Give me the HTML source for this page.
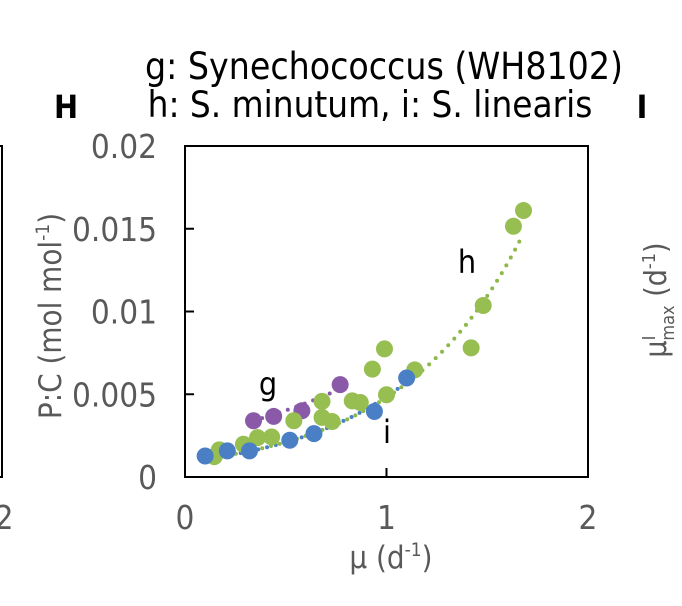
<!DOCTYPE html>
<html><head><meta charset="utf-8">
<style>
html,body{margin:0;padding:0;background:#fff;}
svg{display:block;font-family:"DejaVu Sans Condensed","DejaVu Sans","Liberation Sans",sans-serif;}
</style></head>
<body>
<svg id="chart" width="682" height="606" viewBox="0 0 682 606">
  <rect x="-2" y="146" width="4" height="331" fill="none" stroke="#000" stroke-width="2"/>
  <text x="4" y="529" font-size="33" fill="#595959" text-anchor="middle">2</text>
  <text x="384" y="79" font-size="37" fill="#000" text-anchor="middle">g: Synechococcus (WH8102)</text>
  <text x="370" y="117" font-size="36.5" fill="#000" text-anchor="middle">h: S. minutum, i: S. linearis</text>
  <text x="66" y="118" font-size="32" font-weight="bold" fill="#000" text-anchor="middle">H</text>
  <text x="642" y="118" font-size="32" font-weight="bold" fill="#000" text-anchor="middle">I</text>
  <text transform="translate(666,300) rotate(-90)" font-size="30" fill="#595959" text-anchor="middle">μ<tspan font-size="18" dy="-11">I</tspan><tspan font-size="18" dy="19" dx="-5">max</tspan><tspan dy="-8"> (d</tspan><tspan font-size="18" dy="-11">-1</tspan><tspan dy="11">)</tspan></text>
  <text transform="translate(61,316) rotate(-90)" font-size="31" fill="#595959" text-anchor="middle">P:C (mol mol<tspan font-size="19" dy="-12">-1</tspan><tspan dy="12">)</tspan></text>
  <text x="391" y="568" font-size="31" fill="#595959" text-anchor="middle">μ (d<tspan font-size="19" dy="-12">-1</tspan><tspan dy="12">)</tspan></text>
  <g id="ticks"></g>
  <g id="fits"></g>
  <g id="points"></g>
  <rect x="185" y="146" width="403" height="331" fill="none" stroke="#000" stroke-width="2"/>
  <text x="268" y="395" font-size="32" fill="#000" text-anchor="middle">g</text>
  <text x="467" y="273" font-size="32" fill="#000" text-anchor="middle">h</text>
  <text x="387" y="443" font-size="32" fill="#000" text-anchor="middle">i</text>
</svg>
<script>
const xTicks = [0, 1, 2];
const yTicks = [0, 0.005, 0.01, 0.015, 0.02];
const yTickLabels = ["0", "0.005", "0.01", "0.015", "0.02"];
const blueX = [0.10, 0.21, 0.32, 0.52, 0.64, 0.94, 1.10];
const blueY = [0.00127, 0.00158, 0.00158, 0.00222, 0.00262, 0.00396, 0.00598];
const purpleX = [0.34, 0.44, 0.58, 0.77];
const purpleY = [0.0034, 0.00366, 0.0040, 0.00558];
const greenX = [0.145, 0.17, 0.29, 0.36, 0.43, 0.54, 0.68, 0.68, 0.73, 0.83, 0.87, 0.93, 0.99, 1.00, 1.14, 1.42, 1.48, 1.63, 1.68];
const greenY = [0.00123, 0.00164, 0.00198, 0.00238, 0.00242, 0.0034, 0.00457, 0.0036, 0.00335, 0.0046, 0.0045, 0.00652, 0.00774, 0.00497, 0.00647, 0.0078, 0.01036, 0.01515, 0.0161];
// exponential fits: [a, b, xStart, xEnd]
const greenFit = [0.000925, 1.647, 0.12, 1.67];
const blueFit = [0.000907, 1.677, 0.10, 1.07];
const purpleFit = [0.00239, 1.04, 0.34, 0.76];

const NS = "http://www.w3.org/2000/svg";
const X0 = 185, X1 = 588, Y0 = 477, Y1 = 146;
function xs(v){ return X0 + (v - 0) / 2 * (X1 - X0); }
function ys(v){ return Y0 - v / 0.02 * (Y0 - Y1); }
function mk(tag, attrs, parent){ const e = document.createElementNS(NS, tag); for (const k in attrs) e.setAttribute(k, attrs[k]); parent.appendChild(e); return e; }

const tg = document.getElementById('ticks');
xTicks.forEach((t) => {
  const tx = mk('text', {x: xs(t), y: 529, 'font-size': 33, fill: '#595959', 'text-anchor': 'middle'}, tg);
  tx.textContent = String(t);
  
  
  if (t > 0 && t < 2) {
    const l = mk('line', {x1: xs(t), x2: xs(t), y1: Y0, y2: Y0 - 9, stroke: '#000', 'stroke-width': 2}, tg);
    
    
  }
});
yTicks.forEach((t, i) => {
  const tx = mk('text', {x: 157, y: ys(t) + 12, 'font-size': 33, fill: '#595959', 'text-anchor': 'end'}, tg);
  tx.textContent = yTickLabels[i];
  
  
  if (t > 0 && t < 0.02) {
    const l = mk('line', {x1: X0, x2: X0 + 9, y1: ys(t), y2: ys(t), stroke: '#000', 'stroke-width': 2}, tg);
    
    
  }
});

const fg = document.getElementById('fits');
function drawFit(fit, color, name){
  const pts = [];
  for (let k = 0; k <= 60; k++) {
    const x = fit[2] + (fit[3] - fit[2]) * k / 60;
    pts.push(xs(x).toFixed(1) + ',' + ys(fit[0] * Math.exp(fit[1] * x)).toFixed(1));
  }
  const p = mk('polyline', {points: pts.join(' '), fill: 'none', stroke: color, 'stroke-width': 4, 'stroke-dasharray': '0 9', 'stroke-linecap': 'round'}, fg);
  
  
}
drawFit(greenFit, '#8db84a', 'fit-line-h');
drawFit(blueFit, '#4a7fc6', 'fit-line-i');
drawFit(purpleFit, '#8a5aa8', 'fit-line-g');

const pg = document.getElementById('points');
function drawPts(X, Y, color, name){
  X.forEach((x, i) => {
    const c = mk('circle', {cx: xs(x), cy: ys(Y[i]), r: 8.5, fill: color}, pg);
    
    
  });
}
drawPts(purpleX, purpleY, '#8a5aa8', 'point-g');
drawPts(greenX, greenY, '#96be50', 'point-h');
drawPts(blueX, blueY, '#4a7fc6', 'point-i');
</script>
</body></html>
